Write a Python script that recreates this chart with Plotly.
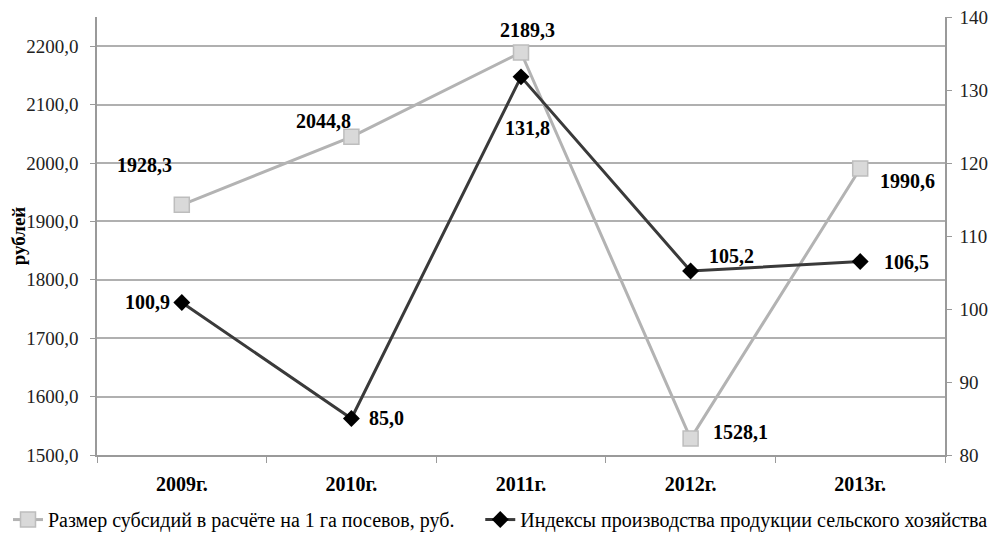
import plotly.graph_objects as go

# data
years = ["2009г.", "2010г.", "2011г.", "2012г.", "2013г."]
subsidy = [1928.3, 2044.8, 2189.3, 1528.1, 1990.6]
index_prod = [100.9, 85.0, 131.8, 105.2, 106.5]
subsidy_labels = ["1928,3", "2044,8", "2189,3", "1528,1", "1990,6"]
index_labels = ["100,9", "85,0", "131,8", "105,2", "106,5"]

name_subsidy = "Размер субсидий в расчёте на 1 га посевов, руб."
name_index = "Индексы производства продукции сельского хозяйства"

FONT = "Liberation Serif, Times New Roman, serif"

fig = go.Figure()

fig.add_trace(go.Scatter(
    x=years, y=subsidy, name=name_subsidy, mode="lines+markers", legend="legend",
    line=dict(color="#b3b3b3", width=3),
    marker=dict(symbol="square", size=15, color="#d9d9d9",
                line=dict(color="#bdbdbd", width=1.5)),
))
fig.add_trace(go.Scatter(
    x=years, y=index_prod, name=name_index, mode="lines+markers", yaxis="y2",
    legend="legend2",
    line=dict(color="#3a3a3a", width=3),
    marker=dict(symbol="diamond", size=13, color="#000000"),
))

# label placement (anchor, xshift, yshift) per point
sub_pos = [("right", -8, 40), ("right", 2, 16), ("center", 6, 22),
           ("left", 20, 7), ("left", 18, -13)]
idx_pos = [("right", -10, 0), ("left", 16, 1), ("center", 6, -51),
           ("left", 16, 15), ("left", 22, 0)]

for yr, v, t, (xa, dx, dy) in zip(years, subsidy, subsidy_labels, sub_pos):
    fig.add_annotation(x=yr, y=v, yref="y", text=t, showarrow=False,
                       xanchor=xa, xshift=dx, yshift=dy,
                       font=dict(family=FONT, size=20, color="#000000", weight="bold"))
for yr, v, t, (xa, dx, dy) in zip(years, index_prod, index_labels, idx_pos):
    fig.add_annotation(x=yr, y=v, yref="y2", text=t, showarrow=False,
                       xanchor=xa, xshift=dx, yshift=dy,
                       font=dict(family=FONT, size=20, color="#000000", weight="bold"))

tick_font = dict(family=FONT, size=19, color="#222222")
legend_font = dict(family=FONT, size=20, color="#000000")

# page body has an 8px margin, so the figure is a little smaller than the window
fig.update_layout(
    width=988, height=534,
    margin=dict(l=89, r=51, t=9, b=87, autoexpand=False),
    paper_bgcolor="white", plot_bgcolor="white",
    font=dict(family=FONT, size=19, color="#222222"),
    separators=", ",
    showlegend=True,
    legend=dict(orientation="h", xref="container", x=0.0, xanchor="left",
                yref="container", y=0.042, yanchor="middle", font=legend_font),
    legend2=dict(orientation="h", xref="container", x=0.478, xanchor="left",
                 yref="container", y=0.042, yanchor="middle", font=legend_font),
    xaxis=dict(
        range=[-0.5, 4.5],
        showline=True, linecolor="#9a9a9a", linewidth=1.5,
        ticks="outside", tickson="boundaries", ticklen=6, tickcolor="#9a9a9a",
        showgrid=False, ticklabelstandoff=10,
        tickfont=dict(family=FONT, size=20, color="#000000", weight="bold"),
    ),
    yaxis=dict(
        range=[1500, 2250], dtick=100, tick0=1500, tickformat=".1f",
        showline=True, linecolor="#9a9a9a", linewidth=1.5,
        ticks="outside", ticklen=5, tickcolor="#9a9a9a",
        showgrid=True, gridcolor="#b0b0b0", gridwidth=1.5, zeroline=False,
        tickfont=tick_font, ticklabelstandoff=8,
        title=dict(text="рублей", standoff=0,
                   font=dict(family=FONT, size=19, color="#000000", weight="bold")),
    ),
    yaxis2=dict(
        overlaying="y", side="right", range=[80, 140], dtick=10,
        showline=True, linecolor="#9a9a9a", linewidth=1.5,
        ticks="outside", ticklen=5, tickcolor="#9a9a9a",
        showgrid=False, zeroline=False, ticklabeloverflow="allow",
        tickfont=tick_font, ticklabelstandoff=4,
    ),
)

fig.write_html("out.html")
